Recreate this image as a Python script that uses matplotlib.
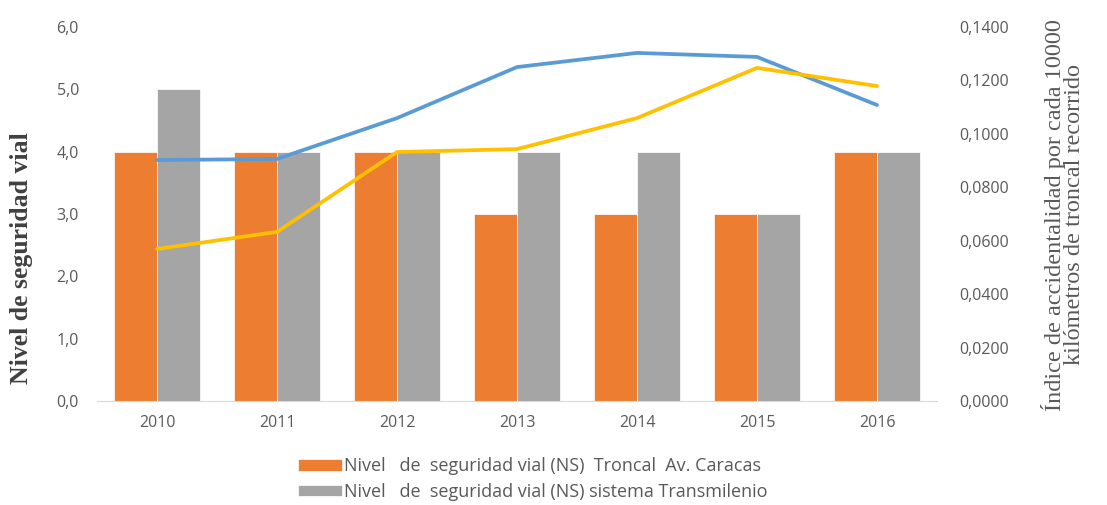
import numpy as np
import matplotlib
matplotlib.use("Agg")
import matplotlib.pyplot as plt

years = ["2010", "2011", "2012", "2013", "2014", "2015", "2016"]
ns_caracas = [4, 4, 4, 3, 3, 3, 4]
ns_transmilenio = [5, 4, 4, 4, 4, 3, 4]
indice_azul = [0.0902, 0.0906, 0.1059, 0.1250, 0.1303, 0.1288, 0.1108]
indice_amarillo = [0.0569, 0.0633, 0.0932, 0.0943, 0.1059, 0.1247, 0.1179]

label_caracas = "Nivel   de  seguridad vial (NS)  Troncal  Av. Caracas"
label_tm = "Nivel   de  seguridad vial (NS) sistema Transmilenio"

text_color = "#595959"
plt.rcParams["font.family"] = ["Open Sans", "DejaVu Sans"]

fig = plt.figure(figsize=(11.07, 5.05), dpi=100)
ax = fig.add_axes([97 / 1107, 1 - 401 / 505, 840 / 1107, 374 / 505])

x = np.arange(len(years))
w = 0.36
ax.bar(x - w / 2, ns_caracas, w, color="#ED7D31", edgecolor="white", linewidth=0.5, label=label_caracas, zorder=2)
ax.bar(x + w / 2, ns_transmilenio, w, color="#A5A5A5", edgecolor="white", linewidth=0.5, label=label_tm, zorder=2)

ax.set_xlim(-0.5, len(years) - 0.5)
ax.set_ylim(0, 6)
ax.set_yticks(np.arange(0, 6.01, 1))
ax.set_yticklabels([f"{v:.1f}".replace(".", ",") for v in np.arange(0, 6.01, 1)])
ax.set_xticks(x)
ax.set_xticklabels(years)
ax.tick_params(length=0, labelsize=11.5, colors=text_color, pad=10)
ax.tick_params(axis="y", pad=13)
for s in ["top", "right", "left"]:
    ax.spines[s].set_visible(False)
ax.spines["bottom"].set_color("#D9D9D9")

fig.text(22 / 1107, 1 - 258 / 505, "Nivel de seguridad vial", rotation=90,
         ha="center", va="center", family="Liberation Serif", fontweight="bold",
         fontsize=18.5, color="#404040")

ax2 = ax.twinx()
ax2.plot(x, indice_azul, color="#5B9BD5", linewidth=2.7, solid_capstyle="round", zorder=3)
ax2.plot(x, indice_amarillo, color="#FFC000", linewidth=2.7, solid_capstyle="round", zorder=3)
ax2.set_ylim(0, 0.14)
ticks2 = np.arange(0, 0.1401, 0.02)
ax2.set_yticks(ticks2)
ax2.set_yticklabels([f"{v:.4f}".replace(".", ",") for v in ticks2])
ax2.tick_params(length=0, labelsize=11.5, colors=text_color, pad=16)
for s in ["top", "right", "left", "bottom"]:
    ax2.spines[s].set_visible(False)

fig.text(1063 / 1107, 1 - 215 / 505,
         "Índice de accidentalidad por cada 10000\nkilómetros de troncal recorrido",
         rotation=90, ha="center", va="center", family="Liberation Serif",
         fontsize=17.5, color=text_color, linespacing=0.9)

fig.legend(loc="center", bbox_to_anchor=(533 / 1107, 1 - 479 / 505), frameon=False,
           fontsize=13, labelcolor=text_color, handlelength=2.4, handleheight=0.6,
           handletextpad=0.15, labelspacing=0.4)

fig.savefig("out.png", dpi=100)
